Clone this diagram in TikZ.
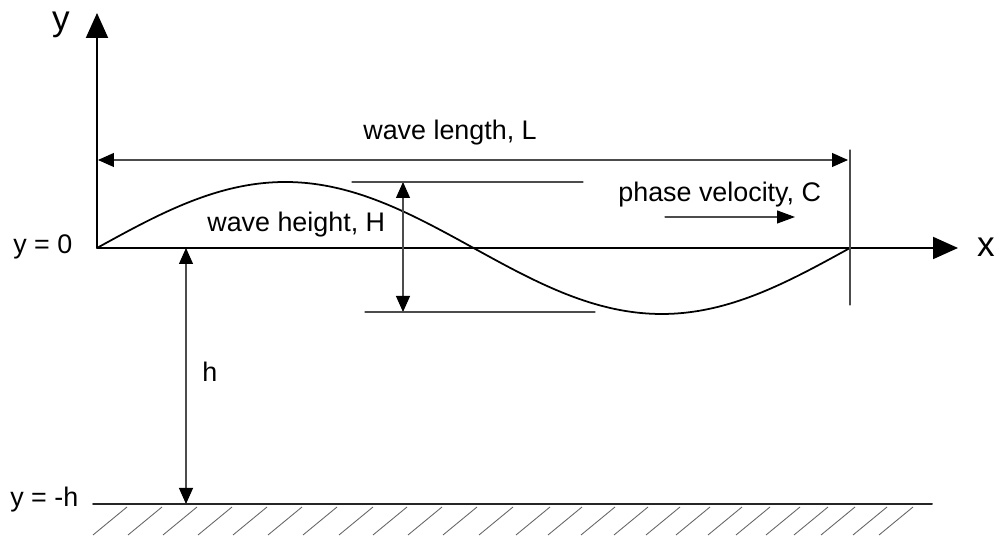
\documentclass[tikz,border=0pt]{standalone}
\usepackage{fontspec}
\setmainfont{Liberation Sans}
\usepackage{tkz-euclide}
\usetikzlibrary{arrows.meta}
\definecolor{ThinClr}{gray}{0.3}
\definecolor{HatchClr}{gray}{0.4}
\tikzset{
  axisarrow/.style={-{Triangle[length=0.5cm,width=0.44cm]}},
  dimarrow/.style={{Triangle[length=0.32cm,width=0.28cm,color=black]}-{Triangle[length=0.32cm,width=0.28cm,color=black]}},
  velarrow/.style={-{Triangle[length=0.36cm,width=0.26cm,color=black]}},
  lbl/.style={anchor=base west,inner sep=0pt,font=\fontsize{15.3}{18}\selectfont},
  axlbl/.style={inner sep=0pt,font=\fontsize{20}{24}\selectfont}
}

\begin{document}
\begin{tikzpicture}[x=0.02cm,y=0.02cm]
\useasboundingbox (0,0) rectangle (1000,536);
\tkzSetUpLine[line width=0.6pt,color=ThinClr]

\tkzDefPoints{97/288/O,97/523/Y,958/288/X,850/288/E}
\tkzDefPoints{98/376/LA,848/376/LB,850/386/VA,850/231/VB}
\tkzDefPoints{352/354/TA,583/354/TB,365/224/BA,595/224/BB}
\tkzDefPoints{403/354/HA,403/224/HB,186/288/DA,186/32/DB}
\tkzDefPoints{93/32/SA,932/32/SB,665/319/CA,795/319/CB}

% axes
\tkzDrawSegments[line width=1.1pt,color=black,axisarrow](O,Y O,X)

% wave
\draw[line width=1pt] plot[domain=97:850,samples=120,smooth]
  (\x,{288+66*sin(0.478088*(\x-97))});

% dimensions
\tkzDrawSegments[dimarrow](LA,LB HA,HB DA,DB)
\tkzDrawSegments(VA,VB TA,TB BA,BB)
\tkzDrawSegments[velarrow](CA,CB)

% sea bed
\tkzDrawSegments[line width=1.1pt,color=black!85](SA,SB)
\foreach \t in {127,162,197,232,267,302,337,373,407,442,477,513,550,582,615,648,680,710,742,770,800,828,855,887,913}
  \draw[line width=0.5pt,color=HatchClr] (\t-34,1) -- (\t,29);

\node[axlbl] (ylbl) at (61,511) {y};
\node[axlbl] (xlbl) at (986,289) {x};
\node[lbl] (yzero) at (13,282) {y = 0};
\node[lbl] (ydepth) at (10,29) {y = -h};
\node[lbl] (hlbl) at (202,154) {h};
\node[lbl] (wlen) at (363,396) {wave length, L};
\node[lbl] (whgt) at (207,304) {wave height, H};
\node[lbl] (pvel) at (618,334) {phase velocity, C};
\end{tikzpicture}
\end{document}
